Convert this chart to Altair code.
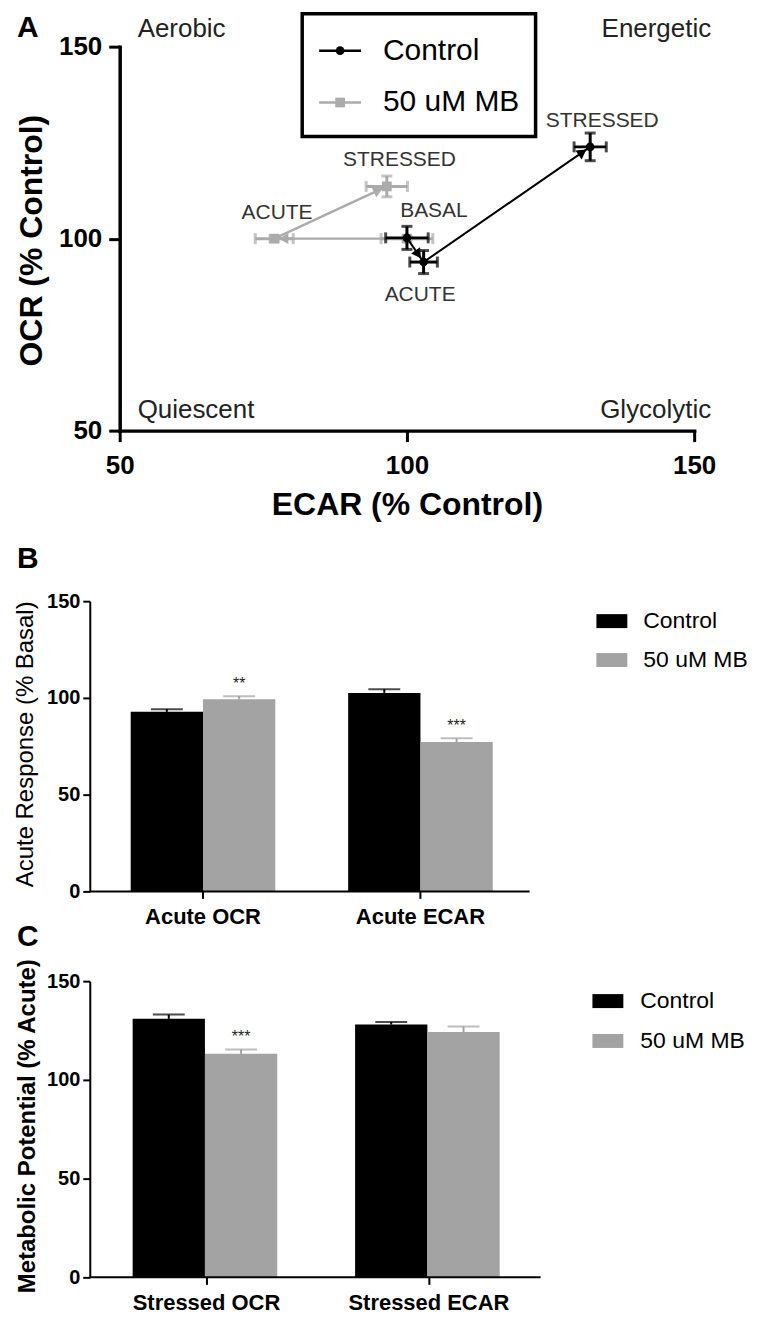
import math
import altair as alt
import pandas as pd

FONT = "Liberation Sans, Arial, Helvetica, sans-serif"

# ---------------- data: panel A (energy map) ----------------
series_names = ["Control", "50 uM MB"]
states = ["BASAL", "ACUTE", "STRESSED"]
ctrl_ecar = [100.0, 102.9, 131.9]
ctrl_ecar_err = [3.7, 2.4, 2.8]
ctrl_ocr = [100.2, 93.9, 123.9]
ctrl_ocr_err = [3.0, 3.0, 3.6]
mb_ecar = [100.0, 76.9, 96.5]
mb_ecar_err = [4.5, 3.3, 3.6]
mb_ocr = [100.0, 100.0, 113.6]
mb_ocr_err = [0.6, 0.8, 2.7]

point_labels = ["STRESSED", "STRESSED", "ACUTE", "BASAL", "ACUTE"]
point_label_ecar = [134.0, 98.7, 77.4, 104.7, 102.3]
point_label_ocr = [130.6, 120.5, 106.8, 107.1, 85.4]

quadrants = ["Aerobic", "Energetic", "Quiescent", "Glycolytic"]

# ---------------- data: panel B ----------------
b_categories = ["Acute OCR", "Acute ECAR"]
b_control = [92.8, 102.6]
b_control_err = [1.4, 1.9]
b_mb = [99.3, 77.2]
b_mb_err = [1.6, 1.9]
b_control_sig = ["", ""]
b_mb_sig = ["**", "***"]

# ---------------- data: panel C ----------------
c_categories = ["Stressed OCR", "Stressed ECAR"]
c_control = [130.9, 128.0]
c_control_err = [2.2, 1.3]
c_mb = [113.2, 124.2]
c_mb_err = [2.2, 2.8]
c_control_sig = ["", ""]
c_mb_sig = ["***", ""]

# ---------------- styles ----------------
BLACK = "#000000"
GREY_LINE = "#ababab"
GREY_BAR = "#a3a3a3"
LABEL_GREY = "#333333"


def ptext(txt, x, y, size, weight="normal", align="left", color=BLACK):
    return alt.Chart(pd.DataFrame({"t": [txt]})).mark_text(
        align=align, baseline="middle", fontSize=size, fontWeight=weight, color=color
    ).encode(x=alt.value(x), y=alt.value(y), text="t:N")


# =============== Panel A ===============
WA, HA = 576, 385
sx, sy = WA / 100.0, HA / 100.0

xscale = alt.Scale(domain=[50, 150], nice=False, zero=False)
yscale = alt.Scale(domain=[50, 150], nice=False, zero=False)

x_axis_a = alt.Axis(values=[50, 100, 150], title="ECAR (% Control)", titleFontSize=32,
                    titleFontWeight="bold", titleColor=BLACK, titleX=288, titleY=74,
                    titleBaseline="middle", titleAlign="center",
                    labelFontSize=26, labelFontWeight="bold", labelColor=BLACK,
                    labelPadding=11, labelFlush=False, tickSize=11, tickWidth=3,
                    tickColor=BLACK, domainColor=BLACK, domainWidth=3.5,
                    domainCap="square", grid=False)
y_axis_a = alt.Axis(values=[50, 100, 150], title="OCR (% Control)", titleFontSize=32,
                    titleFontWeight="bold", titleColor=BLACK, titleAngle=270,
                    titleX=-88, titleY=194, titleBaseline="middle", titleAlign="center",
                    labelFontSize=26, labelFontWeight="bold", labelColor=BLACK,
                    labelPadding=7, labelFlush=False, tickSize=11, tickWidth=3,
                    tickColor=BLACK, domainColor=BLACK, domainWidth=3.5,
                    domainCap="square", grid=False)


def XA(field):
    return alt.X(field, scale=xscale, axis=x_axis_a)


def YA(field):
    return alt.Y(field, scale=yscale, axis=y_axis_a)


layers_a = []
series_data = {
    "Control": (ctrl_ecar, ctrl_ecar_err, ctrl_ocr, ctrl_ocr_err, BLACK, "circle", 75),
    "50 uM MB": (mb_ecar, mb_ecar_err, mb_ocr, mb_ocr_err, GREY_LINE, "square", 95),
}

for s in ["50 uM MB", "Control"]:
    ex, exe, oc, oce, col, shape, msize = series_data[s]
    df = pd.DataFrame({
        "state": states, "order": list(range(len(states))),
        "ecar": ex, "ocr": oc,
        "ecar_lo": [a - b for a, b in zip(ex, exe)], "ecar_hi": [a + b for a, b in zip(ex, exe)],
        "ocr_lo": [a - b for a, b in zip(oc, oce)], "ocr_hi": [a + b for a, b in zip(oc, oce)],
    })
    line = alt.Chart(df).mark_line(color=col, strokeWidth=2 if s == "Control" else 2.4).encode(
        x=XA("ecar:Q"), y=YA("ocr:Q"), order="order:Q")
    xerr = alt.Chart(df).mark_rule(color=col, strokeWidth=3).encode(
        x=XA("ecar_lo:Q"), x2="ecar_hi:Q", y=YA("ocr:Q"))
    yerr = alt.Chart(df).mark_rule(color=col, strokeWidth=3).encode(
        x=XA("ecar:Q"), y=YA("ocr_lo:Q"), y2="ocr_hi:Q")
    xcaps = pd.DataFrame({"ecar": list(df["ecar_lo"]) + list(df["ecar_hi"]),
                          "ocr": list(df["ocr"]) * 2})
    ycaps = pd.DataFrame({"ecar": list(df["ecar"]) * 2,
                          "ocr": list(df["ocr_lo"]) + list(df["ocr_hi"])})
    xcap = alt.Chart(xcaps).mark_tick(orient="vertical", color=col, size=11, thickness=3).encode(
        x=XA("ecar:Q"), y=YA("ocr:Q"))
    ycap = alt.Chart(ycaps).mark_tick(orient="horizontal", color=col, size=11, thickness=3).encode(
        x=XA("ecar:Q"), y=YA("ocr:Q"))
    pts = alt.Chart(df).mark_point(shape=shape, filled=True, opacity=1, color=col, size=msize).encode(
        x=XA("ecar:Q"), y=YA("ocr:Q"))
    # arrowheads pointing along each segment, set back from its end point
    arr = []
    for i in range(1, len(states)):
        dxp = (ex[i] - ex[i - 1]) * sx
        dyp = -(oc[i] - oc[i - 1]) * sy
        L = math.hypot(dxp, dyp)
        back = 11.0
        arr.append({"ecar": ex[i] - back * dxp / L / sx,
                    "ocr": oc[i] + back * dyp / L / sy,
                    "angle": math.degrees(math.atan2(dxp, -dyp)) % 360})
    arrows = alt.Chart(pd.DataFrame(arr)).mark_point(shape="triangle", filled=True, opacity=1,
                                                     color=col, size=120).encode(
        x=XA("ecar:Q"), y=YA("ocr:Q"), angle=alt.Angle("angle:Q", scale=None))
    layers_a += [line, xerr, yerr, xcap, ycap, arrows, pts]

lab_df = pd.DataFrame({"label": point_labels, "lx": point_label_ecar, "ly": point_label_ocr})
layers_a.append(alt.Chart(lab_df).mark_text(fontSize=21, color=LABEL_GREY, baseline="middle",
                                            align="center").encode(
    x=XA("lx:Q"), y=YA("ly:Q"), text="label:N"))

# quadrant labels
quad_pos = [(18, -18, "left"), (593, -18, "right"), (18, 364, "left"), (593, 364, "right")]
for q, (qx, qy, qa) in zip(quadrants, quad_pos):
    layers_a.append(ptext(q, qx, qy, 26, align=qa, color="#222222"))

# legend box
layers_a.append(alt.Chart(pd.DataFrame({"k": [0]})).mark_rect(
    fill="white", stroke=BLACK, strokeWidth=3.5).encode(
    x=alt.value(183), x2=alt.value(417), y=alt.value(-33), y2=alt.value(90)))
for s, yy in zip(series_names, [4, 56]):
    ex, exe, oc, oce, col, shape, msize = series_data[s]
    d1 = pd.DataFrame({"t": [s]})
    layers_a.append(alt.Chart(d1).mark_rule(color=col, strokeWidth=2.5).encode(
        x=alt.value(200), x2=alt.value(242), y=alt.value(yy)))
    layers_a.append(alt.Chart(d1).mark_point(shape=shape, filled=True, opacity=1, color=col,
                                             size=msize).encode(x=alt.value(221), y=alt.value(yy)))
    layers_a.append(ptext(s, 264, yy, 30))

layers_a.append(ptext("A", -103, -19, 30, weight="bold"))

panel_a = alt.layer(*layers_a).properties(width=WA, height=HA)


# =============== Panels B and C ===============
def bar_panel(cats, ctrl, ctrl_err, mb, mb_err, ctrl_sig, mb_sig, letter, ytitle, ytitle_weight,
              W, HT, top, p_in, p_out, p_align, leg_x0, leg_ys, leg_tx, title_x, title_y,
              letter_y):
    rows = []
    for g, vals, errs, sigs in [("Control", ctrl, ctrl_err, ctrl_sig),
                                 ("50 uM MB", mb, mb_err, mb_sig)]:
        for c, v, e, sg in zip(cats, vals, errs, sigs):
            rows.append({"category": c, "group": g, "value": v, "hi": v + e, "sig": sg})
    df = pd.DataFrame(rows)

    yax = alt.Axis(values=[0, 50, 100, 150], offset=30, tickSize=7, tickWidth=2, tickColor=BLACK,
                   domainWidth=2, domainColor=BLACK, labelFontSize=20, labelFontWeight="bold",
                   labelColor=BLACK, labelPadding=3, labelFlush=False, grid=False,
                   title=ytitle, titleFontSize=24, titleFontWeight=ytitle_weight,
                   titleColor=BLACK, titleAngle=270, titleX=title_x, titleY=title_y,
                   titleBaseline="middle", titleAlign="center")
    xax = alt.Axis(title="", domain=False, tickSize=7, tickWidth=2, tickColor=BLACK,
                   labelFontSize=22, labelFontWeight="bold", labelColor=BLACK,
                   labelPadding=8.5, labelAngle=0, grid=False)
    xsc = alt.Scale(domain=cats, paddingInner=p_in, paddingOuter=p_out, align=p_align)
    xosc = alt.Scale(domain=series_names, paddingInner=0, paddingOuter=0)
    ysc = alt.Scale(domain=[0, 150], range=[HT, top], nice=False, zero=True)
    csc = alt.Scale(domain=series_names, range=[BLACK, GREY_BAR])

    X = alt.X("category:N", scale=xsc, axis=xax, sort=cats)
    XO = alt.XOffset("group:N", scale=xosc, sort=series_names)
    C = alt.Color("group:N", scale=csc, legend=None)

    def Y(field):
        return alt.Y(field, scale=ysc, axis=yax)

    bars = alt.Chart(df).mark_bar().encode(x=X, xOffset=XO, y=Y("value:Q"), color=C)
    stems = alt.Chart(df).mark_rule(strokeWidth=2).encode(
        x=X, xOffset=XO, y=Y("value:Q"), y2="hi:Q", color=C)
    caps = alt.Chart(df).mark_tick(orient="horizontal", size=32, thickness=2).encode(
        x=X, xOffset=XO, y=Y("hi:Q"), color=C)
    stars = alt.Chart(df).mark_text(fontSize=16, dy=-12, baseline="middle", color="#222222").encode(
        x=X, xOffset=XO, y=Y("hi:Q"), text="sig:N")
    base = alt.Chart(pd.DataFrame({"k": [0]})).mark_rule(color=BLACK, strokeWidth=2).encode(
        x=alt.value(-30), x2=alt.value(W), y=alt.value(HT))
    layers = [bars, stems, caps, stars, base]
    for s, col, yy in zip(series_names, [BLACK, GREY_BAR], leg_ys):
        layers.append(alt.Chart(pd.DataFrame({"t": [s]})).mark_rect(color=col).encode(
            x=alt.value(leg_x0), x2=alt.value(leg_x0 + 31), y=alt.value(yy - 7),
            y2=alt.value(yy + 7)))
        layers.append(ptext(s, leg_tx, yy, 23))
    layers.append(ptext(letter, -103, letter_y, 30, weight="bold"))
    return alt.layer(*layers).properties(width=W, height=HT)


panel_b = bar_panel(b_categories, b_control, b_control_err, b_mb, b_mb_err, b_control_sig,
                    b_mb_sig, "B", "Acute Response (% Basal)", "normal",
                    W=411, HT=442, top=151, p_in=0.335, p_out=0.11, p_align=0.23,
                    leg_x0=478, leg_ys=[171, 210], leg_tx=525, title_x=-64, title_y=294,
                    letter_y=109)
panel_c = bar_panel(c_categories, c_control, c_control_err, c_mb, c_mb_err, c_control_sig,
                    c_mb_sig, "C", "Metabolic Potential (% Acute)", "bold",
                    W=422, HT=367, top=70, p_in=0.336, p_out=0.114, p_align=0.255,
                    leg_x0=474, leg_ys=[90, 130], leg_tx=522, title_x=-62, title_y=215,
                    letter_y=26)

chart = alt.vconcat(panel_a, panel_b, panel_c, spacing=20, bounds="flush").properties(
    padding={"left": 6, "top": 2, "right": 4, "bottom": 4}
).configure(font=FONT).configure_view(stroke=None)

chart.save("out.html", embed_options={"renderer": "svg", "actions": False})
